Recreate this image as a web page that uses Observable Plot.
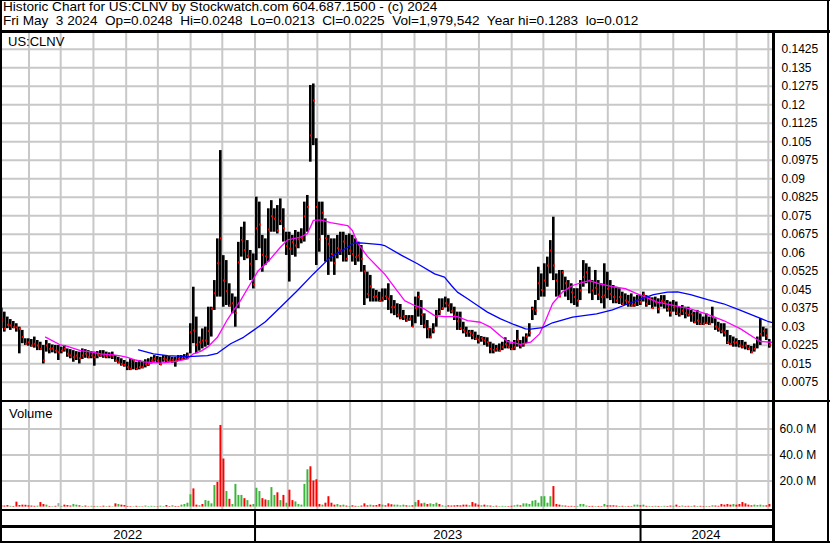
<!DOCTYPE html>
<html><head><meta charset="utf-8">
<script src="https://cdn.jsdelivr.net/npm/d3@7"></script>
<script src="https://cdn.jsdelivr.net/npm/@observablehq/plot@0.6"></script>
<style>
body{margin:0;background:#fff;}
#root{position:relative;width:830px;height:543px;overflow:hidden;font-family:"Liberation Sans",Arial,sans-serif;color:#000;background:#fff}
#root svg{position:absolute;left:0;overflow:visible}
.ln{position:absolute;background:#000}
.txt{position:absolute;white-space:pre;font-size:13px;line-height:14px}
</style></head><body><div id="root"></div><script>
// ---- data ----
const header1 = "Historic Chart for US:CLNV by Stockwatch.com 604.687.1500 - (c) 2024";
const header2 = "Fri May  3 2024  Op=0.0248  Hi=0.0248  Lo=0.0213  Cl=0.0225  Vol=1,979,542  Year hi=0.1283  lo=0.012";
const symbol = "US:CLNV";
const volumeTitle = "Volume";
const years = ["2022","2023","2024"];
const priceTicks = [0.0075,0.015,0.0225,0.03,0.0375,0.045,0.0525,0.06,0.0675,0.075,0.0825,0.09,0.0975,0.105,0.1125,0.12,0.1275,0.135,0.1425];
const volTicks = [20,40,60]; // millions

const hi = [.0375,.0359,.0339,.0329,.0321,.0312,.0298,.0285,.0251,.0251,
.0248,.0258,.0244,.0237,.0224,.0244,.0231,.0226,.0224,.0224,
.0217,.0224,.021,.0207,.0203,.0199,.0197,.021,.0207,.0203,
.0199,.0197,.0199,.0203,.0203,.0197,.0194,.0197,.0183,.0176,
.017,.0163,.0156,.017,.0166,.0156,.0163,.016,.0166,.017,
.0176,.0183,.0179,.0176,.0183,.0183,.0179,.0176,.0176,.0183,
.0183,.0187,.0193,.0312,.046,.0339,.0258,.0291,.0298,.0379,
.0379,.0487,.0656,.1014,.0588,.0568,.0474,.0433,.042,.0642,
.0703,.0724,.0649,.0609,.0595,.0825,.0805,.067,.0656,.0778,
.0811,.0778,.0791,.0818,.0778,.0683,.0683,.067,.069,.0683,
.0697,.0805,.0832,.1278,.1284,.1062,.0805,.0805,.0737,.067,
.0656,.0656,.067,.0683,.0683,.067,.0676,.067,.0656,.0643,
.0629,.0548,.0521,.0508,.0453,.0447,.044,.0453,.0453,.0474,
.0426,.0406,.0393,.039,.0366,.0345,.0345,.0345,.042,.044,
.0406,.0352,.0325,.0292,.0312,.0366,.0413,.0413,.042,.0413,
.0393,.0379,.0359,.0359,.0318,.0298,.0285,.0285,.0278,.0265,
.026,.0257,.0255,.0237,.023,.0224,.023,.0237,.0255,.0244,
.023,.0244,.0285,.0244,.0258,.0271,.0312,.0379,.0406,.0541,
.0514,.0555,.0582,.0649,.0744,.0514,.0528,.0528,.0501,.0487,
.0474,.0454,.0454,.0487,.0568,.0555,.0541,.0487,.0528,.0487,
.0474,.0555,.0521,.0487,.0467,.046,.0454,.044,.0433,.0427,
.0433,.042,.0427,.0427,.044,.0426,.042,.0417,.042,.0413,
.0426,.0426,.0406,.04,.0406,.04,.0379,.0386,.0379,.0379,
.0366,.0359,.0366,.0352,.0339,.0352,.0339,.0379,.0332,.0318,
.0312,.0312,.0285,.0264,.0258,.0251,.0244,.0244,.0237,.0224,
.022,.023,.0258,.0332,.0298,.0291,.0248];

const lo = [.0292,.0278,.0292,.0285,.0292,.0278,.019,.0231,.0224,.0221,
.0217,.0213,.0203,.0203,.0149,.0197,.019,.0194,.019,.0163,
.019,.0197,.0176,.017,.0156,.0163,.0149,.0167,.0172,.017,
.017,.014,.017,.0176,.0172,.017,.017,.0167,.0156,.0149,
.014,.0136,.0122,.0122,.0125,.0122,.0125,.0129,.0133,.0139,
.0149,.0156,.0152,.0143,.0156,.0152,.0156,.0152,.0136,.016,
.0163,.0163,.0166,.019,.0231,.019,.0201,.021,.0217,.0224,
.0258,.0366,.042,.042,.0379,.0386,.0379,.0352,.0298,.0373,
.0582,.0568,.0575,.0487,.0453,.0568,.0616,.0521,.0548,.0562,
.0683,.0683,.0676,.071,.0643,.0589,.0481,.0589,.0582,.0616,
.0636,.0643,.0683,.0967,.1034,.0548,.0602,.067,.0562,.0508,
.0562,.0508,.0575,.0589,.0562,.0562,.0589,.0562,.0548,.0562,
.0521,.0386,.0413,.04,.04,.04,.04,.04,.0406,.0366,
.0352,.0345,.0336,.0328,.0325,.0318,.0322,.0298,.0312,.0339,
.0305,.0292,.0251,.0251,.0271,.0298,.0345,.0366,.0376,.0359,
.0352,.0325,.0285,.0285,.0271,.0257,.0257,.0247,.0244,.023,
.0237,.0224,.0217,.019,.019,.0197,.0197,.0203,.021,.021,
.0203,.0203,.0217,.021,.0217,.0231,.0258,.0325,.0345,.0406,
.042,.042,.046,.0514,.0487,.042,.042,.0447,.042,.0406,
.0393,.0386,.0379,.0406,.046,.0474,.0433,.0406,.0427,.0406,
.0393,.0372,.0413,.0406,.0393,.0393,.039,.0386,.0386,.0379,
.0379,.0379,.0382,.0386,.04,.0379,.0386,.0372,.0379,.0352,
.0379,.0372,.0359,.0339,.0359,.0345,.0339,.0345,.0332,.0339,
.0318,.0312,.0305,.0305,.0305,.0309,.0305,.0312,.0285,.0278,
.0271,.0258,.0228,.0224,.0217,.0217,.0214,.021,.0206,.0203,
.019,.0197,.021,.0224,.0258,.0244,.0213];

const cl = [.0329,.0292,.0308,.0305,.0298,.0297,.0292,.0258,.0231,.0237,
.0224,.0231,.0224,.021,.0163,.0224,.021,.0213,.0203,.0197,
.0203,.021,.019,.0183,.0176,.0183,.0172,.0183,.019,.0176,
.0183,.0176,.0186,.0183,.0183,.0181,.0183,.0183,.0163,.0156,
.0149,.0145,.0136,.0129,.0163,.0129,.0136,.0136,.0147,.0149,
.0163,.017,.0163,.0147,.017,.0166,.0163,.0166,.0163,.017,
.017,.0176,.0183,.0278,.0285,.0228,.0237,.0244,.0244,.0282,
.0373,.0436,.0557,.0659,.0487,.0444,.0386,.0395,.0355,.0561,
.0652,.0611,.0588,.0555,.0471,.0699,.0714,.0591,.0585,.0694,
.0748,.0737,.069,.0728,.0699,.0627,.0616,.0643,.0629,.0654,
.0659,.0748,.0785,.1075,.1217,.0785,.0654,.0762,.0659,.0636,
.0595,.0557,.0618,.0609,.0645,.0575,.0609,.0595,.0582,.0589,
.0575,.0524,.0433,.0464,.042,.0424,.0404,.0417,.0424,.0413,
.0379,.0379,.0349,.0336,.0341,.0328,.0332,.0301,.0376,.042,
.0349,.0305,.0292,.0257,.0285,.0339,.0361,.0376,.0395,.0386,
.0363,.0345,.0322,.0295,.0287,.0274,.0278,.0265,.0251,.0247,
.0253,.0244,.0237,.021,.0206,.021,.0203,.0217,.023,.0217,
.021,.0217,.0247,.0224,.0231,.026,.0275,.0372,.0366,.0476,
.0449,.0487,.0548,.0609,.0548,.0487,.0422,.0521,.0476,.0458,
.044,.042,.0406,.0447,.0501,.0521,.0487,.0447,.0458,.0431,
.042,.0427,.0454,.0433,.042,.0406,.042,.0393,.0406,.04,
.0386,.039,.0406,.04,.0431,.0393,.0413,.0376,.0398,.0372,
.0404,.04,.0372,.0359,.0379,.0355,.0352,.0366,.0355,.0348,
.0352,.0318,.0325,.0312,.0312,.0314,.0312,.0339,.0301,.0291,
.0282,.0278,.0237,.023,.0237,.0237,.0224,.022,.0224,.021,
.0197,.021,.0244,.0271,.0282,.0264,.0225];

// volume in millions of shares
const vol = [1.0,0.8,1.2,0.6,0.5,3.8,1.2,1.5,1.4,1.0,
0.8,0.6,0.7,3.5,2.0,1.5,0.5,0.4,0.6,2.7,
0.5,1.5,1.2,0.8,2.0,1.5,1.0,0.5,0.8,0.3,
0.6,0.4,0.5,0.3,0.7,0.4,0.6,0.3,2.5,2.0,
1.5,1.2,0.5,0.4,0.3,0.6,0.4,0.3,0.8,0.4,
0.6,0.5,0.3,0.7,0.4,1.2,0.4,1.0,0.5,0.4,
1.5,2.0,3.0,9.5,14,1.5,1.0,2.0,5,4.5,
2.5,16.6,19,62.8,37,12,6,2.0,17.5,9,
9,6.5,5,1.5,2.0,14.5,12,6.5,5.5,5,
15,9,11,5,9,3,13,5,4,2,
1.5,17.5,28.7,31,20,21,2,1.5,3,8,
3,1.5,2,1,1.5,0.8,0.5,1,0.6,0.5,
0.8,2.5,1,1.5,1,1.2,2,1.5,1,2.5,
1.8,1.5,1.5,1,1.5,1,0.8,1,3.5,5,
2.5,3,2,2.5,2,3,2,1,0.5,1,
0.8,1,1.2,1,1.5,1.5,1,3.5,2.5,1.5,
1,1.5,1,0.8,0.5,0.7,0.4,0.6,0.5,0.4,
0.6,1,1.5,1,2.5,2.5,2,4.5,5,3,
8,8,3,8,15.8,2,1.5,1,0.8,0.5,
0.6,0.4,0.5,2,2,0.8,0.5,0.6,0.4,0.5,
0.4,2,1,1,1,0.8,0.5,0.6,0.4,0.5,
0.4,1.5,1.5,1,1.5,0.6,0.5,0.4,0.6,0.5,
0.4,0.6,0.5,0.8,0.6,1.5,0.5,0.8,0.5,0.6,
0.5,0.8,0.5,0.6,0.4,0.5,0.4,1,0.8,0.6,
2,1.5,2,1.5,2,1.5,2,3.5,2.5,1.5,
1,1.5,1.2,1.5,1,1,2];

// u = up day (green), d = down day (red), n = unchanged (grey)
const dir = ("d,d,d,u,d,d,d,d,d,d,"+"d,d,u,d,d,u,d,u,d,n,"+"u,d,d,d,u,u,d,u,d,d,"+"u,d,u,d,d,u,d,u,d,u,"+
"d,d,d,d,u,d,u,d,u,u,"+"u,u,d,u,u,d,d,u,d,d,"+"u,u,u,u,d,d,u,d,u,u,"+"u,u,d,d,d,u,d,u,u,u,"+
"u,d,u,d,u,u,u,d,d,u,"+"u,u,d,u,d,u,d,d,u,u,"+"u,u,u,d,d,d,d,u,d,d,"+"d,d,u,d,u,d,u,d,d,u,"+
"d,d,d,u,d,d,d,u,d,d,"+"d,u,u,u,u,d,u,d,u,d,"+"d,u,d,u,u,u,d,u,u,d,"+"d,d,d,d,d,d,u,d,d,d,"+
"u,d,u,d,u,d,u,u,u,d,"+"d,u,u,d,u,u,u,u,u,u,"+"u,u,u,u,d,d,d,u,d,d,"+"d,d,u,u,u,u,d,d,u,d,"+
"d,u,d,d,d,d,u,d,u,d,"+"d,u,u,d,u,d,u,d,u,d,"+"u,u,d,d,u,d,d,u,d,d,"+"u,d,u,d,d,u,d,u,d,d,"+
"d,d,d,d,u,d,d,d,d,d,"+"d,u,u,u,u,d,d").split(",");

// moving averages: session position (bar index) and value
const maShortPos = [15,20,22.3,26.7,31,33.3,37.7,40,42.3,45,47.7,53.3,59,62.3,64.3,66.7,69,72.3,75.7,77.7,
80,83.3,86,89,93.3,95.7,100,102.3,104.3,106.7,110,115.7,117.3,119,122.3,126.7,128,131.3,134.7,138,
141.3,144.7,148,152.3,155.7,160,163.3,166.7,169,171.3,173.3,176.7,179.7,181.7,184,187.3,190.7,194,196.3,199.7,
204,208.3,211.7,214,219,224.3,230,235.7,241,246.7,251,253.3,257];
const maShortVal = [.0258,.0226,.0220,.0203,.0196,.0190,.0186,.0182,.0176,.0165,.0157,.0152,.0160,.0170,.0190,.0200,.0217,.0257,.0330,.0366,
.0406,.0474,.0528,.0561,.0622,.0652,.0663,.0677,.0731,.0733,.0722,.0710,.0690,.0640,.0585,.0530,.0514,.0460,.0406,.0386,
.0372,.0345,.0341,.0341,.0325,.0318,.0298,.0262,.0240,.0234,.0228,.0237,.0271,.0325,.0393,.0440,.0467,.0480,.0487,.0474,
.0462,.0454,.0436,.0425,.0400,.0386,.0372,.0350,.0325,.0291,.0257,.0240,.0237];
const maLongPos = [46,51,55.7,62.3,69,72.3,76.7,81,84.3,88.3,93.3,99,104.3,110,115.7,117.7,120,126.7,128,133.7,
139,144.7,148,150.3,152.3,155.7,159,162.3,166.7,171.3,175,176.7,180.7,184,190.7,198.7,204,209.7,214,217.7,
222.3,225.7,230,235.7,241,246.7,252.3,255.7,257];
const maLongVal = [.0206,.0190,.0183,.0179,.0183,.0192,.0231,.0257,.0285,.0320,.0379,.0447,.0514,.0582,.0622,.0639,.0640,.0633,.0629,.0589,
.0555,.0514,.0501,.0467,.0440,.0413,.0386,.0359,.0332,.0308,.0291,.0290,.0296,.0316,.0339,.0352,.0368,.0395,.0415,.0430,
.0440,.0441,.0430,.0410,.0393,.0366,.0339,.0322,.0318];

// ---- build ----
const START = Date.UTC(2022,4,5), END = Date.UTC(2024,4,4);
const N = hi.length;
const step = (END - START) / N;
const at = p => new Date(START + p * step);
const bars = hi.map((h, i) => ({i, x1: at(i), x2: at(i + 1), xm: at(i + 0.5), vx1: at(i + 0.15), vx2: at(i + 0.8),
  hi: h, lo: lo[i], cl: cl[i], vol: vol[i], dir: dir[i]}));
const maShort = maShortPos.map((p, k) => ({x: at(p), y: maShortVal[k]}));
const maLong = maLongPos.map((p, k) => ({x: at(p), y: maLongVal[k]}));
const months = d3.utcMonth.range(new Date(START), new Date(END));
const yearBreaks = d3.utcYear.range(new Date(START), new Date(END));
const segs = [new Date(START), ...yearBreaks, new Date(END)];
const yearMids = years.map((y, k) => new Date((+segs[k] + +segs[k + 1]) / 2));

const FONT = '"Liberation Sans", Arial, sans-serif';
const GRID = "#c8c8c8";
const xOpt = {type: "utc", domain: [new Date(START), new Date(END)], range: [0, 771], axis: null};
const root = document.getElementById("root");

const pricePlot = Plot.plot({
  width: 830, height: 368, marginLeft: 0, marginRight: 56, marginTop: 0, marginBottom: 0,
  x: xOpt,
  y: {domain: [0, 367.2 / 2466.7], range: [367.2, 0], axis: "right", ticks: priceTicks,
      tickFormat: d => String(+d.toFixed(4)), tickSize: 0, tickPadding: 7, label: null},
  style: {fontFamily: FONT, fontSize: "12px", color: "#000", background: "transparent"},
  marks: [
    Plot.ruleY(priceTicks, {stroke: GRID, strokeWidth: 2}),
    Plot.ruleX(months, {stroke: GRID, strokeWidth: 2}),
    Plot.rect(bars, {x1: "x1", x2: "x2", y1: "lo", y2: "hi", fill: "#000", insetRight: 0.4}),
    Plot.dot(bars, {x: "xm", y: "cl", symbol: "square", r: 1.1, fill: "#ff0000", stroke: "none"}),
    Plot.line(maShort, {x: "x", y: "y", stroke: "#ff00ff", strokeWidth: 1.3}),
    Plot.line(maLong, {x: "x", y: "y", stroke: "#0000ff", strokeWidth: 1.3})
  ]
});
pricePlot.style.top = "33px";
root.appendChild(pricePlot);

const volPlot = Plot.plot({
  width: 830, height: 108, marginLeft: 0, marginRight: 56, marginTop: 0, marginBottom: 0,
  x: xOpt,
  y: {domain: [0, 104.6 / 1.3], range: [104.6, 0], axis: "right", ticks: volTicks,
      tickFormat: d => d.toFixed(1) + " M", tickSize: 0, tickPadding: 5, label: null},
  style: {fontFamily: FONT, fontSize: "12px", color: "#000", background: "transparent"},
  marks: [
    Plot.ruleY(volTicks, {stroke: GRID, strokeWidth: 2}),
    Plot.ruleX(months, {stroke: GRID, strokeWidth: 2}),
    Plot.rect(bars, {x1: "vx1", x2: "vx2", y1: 0, y2: "vol",
      fill: d => d.dir === "u" ? "#3cb43c" : d.dir === "d" ? "#ff0000" : "#a8a8a8"})
  ]
});
volPlot.style.top = "402px";
root.appendChild(volPlot);

const yearPlot = Plot.plot({
  width: 830, height: 33, marginLeft: 0, marginRight: 56, marginTop: 0, marginBottom: 0,
  x: xOpt, y: {axis: null},
  style: {fontFamily: FONT, fontSize: "13px", color: "#000", background: "transparent"},
  marks: [
    Plot.ruleX(yearBreaks, {stroke: "#000", strokeWidth: 2}),
    Plot.text(years, {x: (d, k) => yearMids[k], text: d => d, frameAnchor: "top", lineAnchor: "middle",
      dy: 24, fill: "#000", fontSize: 13})
  ]
});
yearPlot.style.top = "510px";
root.appendChild(yearPlot);

// texts
function addText(str, left, top, size) {
  const d = document.createElement("div");
  d.className = "txt"; d.textContent = str;
  d.style.left = left + "px"; d.style.top = top + "px";
  if (size) d.style.fontSize = size + "px";
  root.appendChild(d);
}
addText(header1, 3, 0, 13.6);
addText(header2, 3, 14, 13.6);
addText(symbol, 8, 35);
addText(volumeTitle, 9, 407);

// frame lines
function line(l, t, w, h) {
  const d = document.createElement("div");
  d.className = "ln";
  Object.assign(d.style, {left: l + "px", top: t + "px", width: w + "px", height: h + "px"});
  root.appendChild(d);
}
line(0, 0, 830, 1);
line(0, 0, 2, 543);
line(827, 0, 2, 543);
line(0, 541, 830, 2);
line(0, 30, 830, 3);
line(0, 400, 830, 2);
line(0, 509, 774, 2);
line(0, 525, 774, 3);
line(772, 30, 3, 513);
</script></body></html>
